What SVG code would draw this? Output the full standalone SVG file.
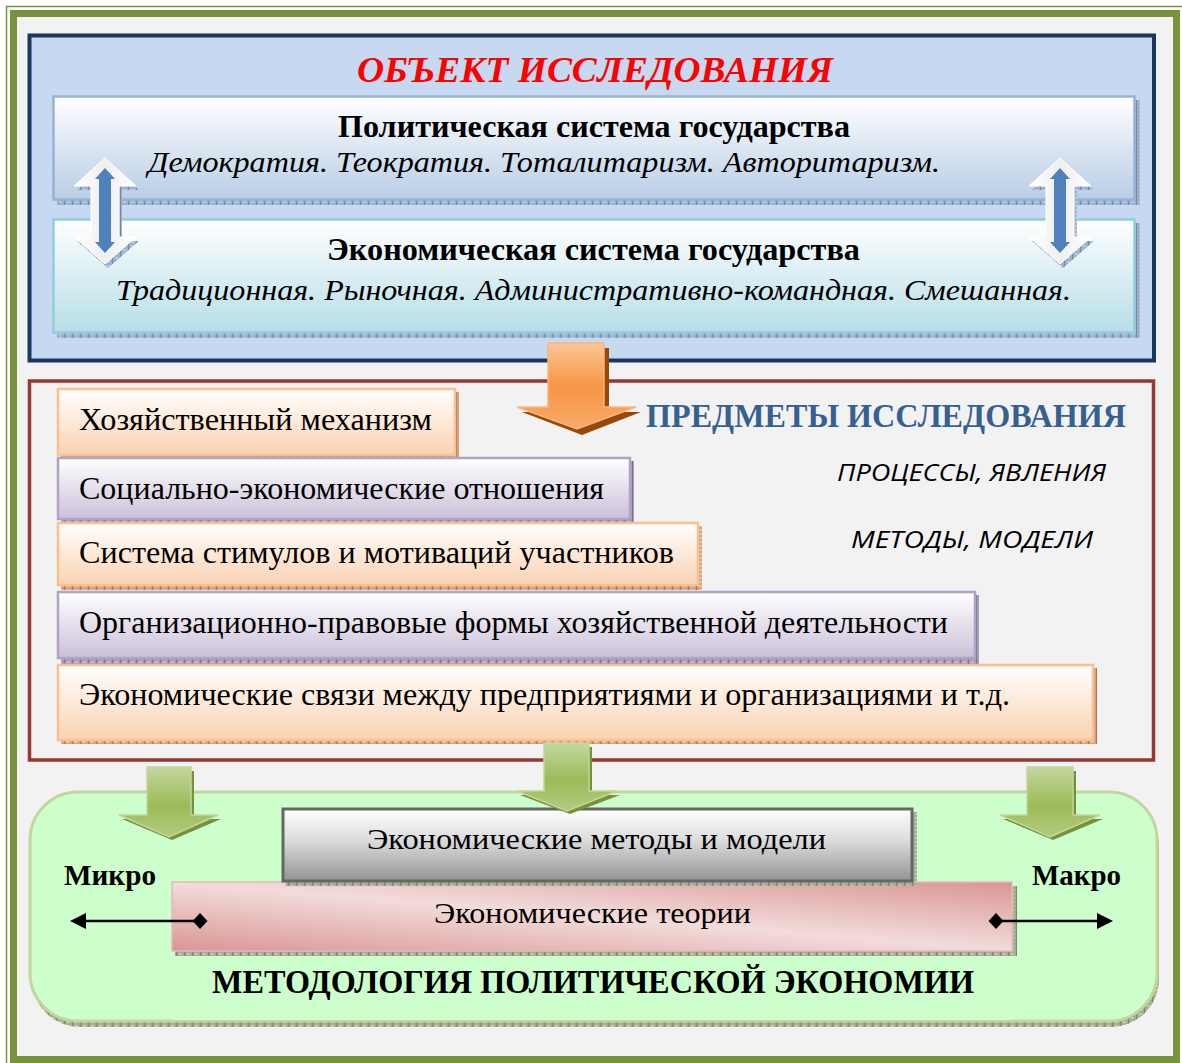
<svg xmlns="http://www.w3.org/2000/svg" width="1182" height="1063" viewBox="0 0 1182 1063">
<style>
.serif{font-family:"Liberation Serif","Times New Roman",serif;fill:#000}
.b{font-weight:bold}
.i{font-style:italic}
.item{font-family:"Liberation Serif","Times New Roman",serif;font-size:31px;fill:#000}
.sans{font-family:"Open Sans","Noto Sans","Liberation Sans",sans-serif;font-style:italic;font-size:23px;fill:#000}
.obox{fill:url(#gOr);stroke:#FAC090;stroke-width:2.5}
.pbox{fill:url(#gPu);stroke:#B3A2C7;stroke-width:2.5}
.shO{fill:url(#hO)}
.shP{fill:url(#hP)}
.shB{fill:url(#hB)}
.shG{fill:url(#hG)}
.garrow{fill:url(#gGr);stroke:#C3D69B;stroke-width:1.5}
.gshadow{fill:#76923C}
</style>
<defs>
<linearGradient id="gB1" x1="0" y1="0" x2="0" y2="1"><stop offset="0" stop-color="#FFFFFF"/><stop offset="0.5" stop-color="#DCE6F2"/><stop offset="1" stop-color="#B9CDE5"/></linearGradient>
<linearGradient id="gB2" x1="0" y1="0" x2="0" y2="1"><stop offset="0" stop-color="#FFFFFF"/><stop offset="0.5" stop-color="#DAEEF3"/><stop offset="1" stop-color="#B7DEE8"/></linearGradient>
<linearGradient id="gOr" x1="0" y1="0" x2="0" y2="1"><stop offset="0" stop-color="#FFFFFF"/><stop offset="1" stop-color="#FAD2B1"/></linearGradient>
<linearGradient id="gPu" x1="0" y1="0" x2="0" y2="1"><stop offset="0" stop-color="#FFFFFF"/><stop offset="1" stop-color="#CBC0D9"/></linearGradient>
<linearGradient id="gGray" x1="0" y1="0" x2="0" y2="1"><stop offset="0" stop-color="#FFFFFF"/><stop offset="0.45" stop-color="#DADADA"/><stop offset="1" stop-color="#939393"/></linearGradient>
<linearGradient id="gPink" x1="0" y1="1" x2="1" y2="0"><stop offset="0" stop-color="#D99694"/><stop offset="0.5" stop-color="#F2DCDB"/><stop offset="1" stop-color="#D99694"/></linearGradient>
<linearGradient id="gOrA" x1="0" y1="0" x2="0" y2="1"><stop offset="0" stop-color="#FBC597"/><stop offset="0.5" stop-color="#F79646"/><stop offset="1" stop-color="#F9AA6A"/></linearGradient>
<linearGradient id="gGr" x1="0" y1="0" x2="0" y2="1"><stop offset="0" stop-color="#C4D79E"/><stop offset="0.55" stop-color="#9BBB59"/><stop offset="1" stop-color="#B3CB80"/></linearGradient>
<linearGradient id="gWA" x1="0" y1="0" x2="1" y2="0"><stop offset="0" stop-color="#FFFFFF"/><stop offset="0.5" stop-color="#EFEFEF"/><stop offset="1" stop-color="#FFFFFF"/></linearGradient>
<pattern id="hB" width="8" height="4" patternUnits="userSpaceOnUse"><rect width="8" height="4" fill="#9CB2CC"/><rect width="1" height="4" fill="#6F8AAA"/><rect x="3" y="1" width="3" height="2" fill="#BACBDF"/></pattern>
<pattern id="hO" width="8" height="4" patternUnits="userSpaceOnUse"><rect width="8" height="4" fill="#D9A07C"/><rect width="1" height="4" fill="#B07452"/><rect x="3" y="1" width="3" height="2" fill="#EAC2A6"/></pattern>
<pattern id="hP" width="8" height="4" patternUnits="userSpaceOnUse"><rect width="8" height="4" fill="#A89CB5"/><rect width="1" height="4" fill="#7F7290"/><rect x="3" y="1" width="3" height="2" fill="#C6BCD1"/></pattern>
<pattern id="hG" width="8" height="4" patternUnits="userSpaceOnUse"><rect width="8" height="4" fill="#A4AC94"/><rect width="1" height="4" fill="#7C8470"/><rect x="3" y="1" width="3" height="2" fill="#C4CAB6"/></pattern>
</defs>

<!-- page frame -->
<rect x="0" y="0" width="1182" height="1063" fill="#FFFFFF"/>
<line x1="6.5" y1="6" x2="6.5" y2="1063" stroke="#77933C" stroke-width="1.5"/>
<line x1="6" y1="6.5" x2="1182" y2="6.5" stroke="#77933C" stroke-width="1.5"/>
<rect x="13.5" y="13.5" width="1163" height="1046" fill="#F2F2F2" stroke="#77933C" stroke-width="7"/>

<!-- object of research -->
<g id="object">
<rect x="29.5" y="35.5" width="1124.5" height="325" fill="#C6D9F1" stroke="#17375E" stroke-width="4"/>
<text class="serif b i" x="357" y="82" font-size="36" style="fill:#FF0000" textLength="476" lengthAdjust="spacingAndGlyphs">ОБЪЕКТ ИССЛЕДОВАНИЯ</text>
</g>
<g id="political">
<rect class="shB" x="57" y="100" width="1083" height="105"/>
<rect x="53.5" y="96.5" width="1081" height="103" fill="url(#gB1)" stroke="#95B3D7" stroke-width="2.5"/>
<text class="serif b" x="338" y="137" font-size="31" textLength="512" lengthAdjust="spacingAndGlyphs">Политическая система государства</text>
<text class="serif i" x="148" y="172" font-size="30" textLength="792" lengthAdjust="spacingAndGlyphs">Демократия. Теократия. Тоталитаризм. Авторитаризм.</text>
</g>
<g id="economic">
<rect class="shB" x="57" y="223" width="1083" height="115"/>
<rect x="53.5" y="219.5" width="1081" height="113" fill="url(#gB2)" stroke="#93CDDD" stroke-width="2.5"/>
<text class="serif b" x="327" y="260" font-size="31" textLength="533" lengthAdjust="spacingAndGlyphs">Экономическая система государства</text>
<text class="serif i" x="116" y="300" font-size="30" textLength="955" lengthAdjust="spacingAndGlyphs">Традиционная. Рыночная. Административно-командная. Смешанная.</text>
</g>

<!-- subjects of research -->
<g id="subjects">
<rect x="29.5" y="381" width="1124" height="379" fill="#F2F2F2" stroke="#953735" stroke-width="3.5"/>
<text class="serif b" x="646" y="427" font-size="34" style="fill:#366092" textLength="480" lengthAdjust="spacingAndGlyphs">ПРЕДМЕТЫ ИССЛЕДОВАНИЯ</text>
<text class="sans" x="837" y="481" textLength="269" lengthAdjust="spacingAndGlyphs">ПРОЦЕССЫ, ЯВЛЕНИЯ</text>
<text class="sans" x="851" y="548" textLength="242" lengthAdjust="spacingAndGlyphs">МЕТОДЫ, МОДЕЛИ</text>
</g>
<g id="item1">
<rect class="shO" x="61" y="392" width="398" height="68"/>
<rect class="obox" x="58" y="389" width="397" height="66"/>
<text class="item" x="79" y="430" textLength="353" lengthAdjust="spacingAndGlyphs">Хозяйственный механизм</text>
</g>
<g id="item2">
<rect class="shP" x="61" y="461" width="573" height="63"/>
<rect class="pbox" x="58" y="458" width="572" height="61"/>
<text class="item" x="79" y="499" textLength="525" lengthAdjust="spacingAndGlyphs">Социально-экономические отношения</text>
</g>
<g id="item3">
<rect class="shO" x="61" y="526" width="641" height="64"/>
<rect class="obox" x="58" y="523" width="640" height="62"/>
<text class="item" x="79" y="563" textLength="595" lengthAdjust="spacingAndGlyphs">Система стимулов и мотиваций участников</text>
</g>
<g id="item4">
<rect class="shP" x="61" y="595" width="918" height="69"/>
<rect class="pbox" x="58" y="592" width="917" height="66"/>
<text class="item" x="79" y="633" textLength="869" lengthAdjust="spacingAndGlyphs">Организационно-правовые формы хозяйственной деятельности</text>
</g>
<g id="item5">
<rect class="shO" x="61" y="668" width="1036" height="76"/>
<rect class="obox" x="58" y="665" width="1035" height="75"/>
<text class="item" x="79" y="705" textLength="931" lengthAdjust="spacingAndGlyphs">Экономические связи между предприятиями и организациями и т.д.</text>
</g>

<!-- methodology -->
<g id="methodology">
<rect class="shG" x="32" y="798" width="1127" height="229" rx="48"/>
<rect x="30" y="792" width="1127" height="229" rx="48" fill="#CCFFCC" stroke="#C3D69B" stroke-width="3"/>
<rect x="172" y="1016" width="841" height="4" fill="#CCFFCC"/>
<text class="serif b" x="212" y="993" font-size="34" textLength="762" lengthAdjust="spacingAndGlyphs">МЕТОДОЛОГИЯ ПОЛИТИЧЕСКОЙ ЭКОНОМИИ</text>
<text class="serif b" x="64" y="885" font-size="29" textLength="92" lengthAdjust="spacingAndGlyphs">Микро</text>
<text class="serif b" x="1032" y="885" font-size="29" textLength="89" lengthAdjust="spacingAndGlyphs">Макро</text>
</g>
<g id="theories">
<rect class="shG" x="175" y="886" width="842" height="70"/>
<rect x="172" y="882" width="840" height="69" fill="url(#gPink)" stroke="#E6B9B8" stroke-width="1.5"/>
<text class="serif" x="434" y="923" font-size="30" textLength="317" lengthAdjust="spacingAndGlyphs">Экономические теории</text>
</g>
<g id="methods">
<rect class="shG" x="286" y="812" width="631" height="74"/>
<rect x="283" y="809" width="629" height="72" fill="url(#gGray)" stroke="#666666" stroke-width="3"/>
<text class="serif" x="367" y="849" font-size="30" textLength="459" lengthAdjust="spacingAndGlyphs">Экономические методы и модели</text>
</g>

<!-- connectors -->
<g id="connectors">
<g id="dbl-left">
<polygon class="shB" points="108,162 139,190 122,190 122,241 139,241 108,268 77,241 94,241 94,190 77,190"/>
<polygon points="105,158 136,186 119,186 119,237 136,237 105,264 74,237 91,237 91,186 74,186" fill="url(#gWA)" stroke="#FFFFFF" stroke-width="1"/>
<polygon points="105,168 115,179 111,179 111,242 115,242 105,253 95,242 99,242 99,179 95,179" fill="#4F81BD"/>
</g>
<g id="dbl-right">
<polygon class="shB" points="1063,162 1094,190 1077,190 1077,241 1094,241 1063,268 1032,241 1049,241 1049,190 1032,190"/>
<polygon points="1060,158 1091,186 1074,186 1074,237 1091,237 1060,264 1029,237 1046,237 1046,186 1029,186" fill="url(#gWA)" stroke="#FFFFFF" stroke-width="1"/>
<polygon points="1060,168 1070,179 1066,179 1066,242 1070,242 1060,253 1050,242 1054,242 1054,179 1050,179" fill="#4F81BD"/>
</g>
<g id="arrow-orange">
<polygon points="553,348 609,348 609,412 641,412 582,435 522,412 553,412" fill="#984807"/>
<polygon points="548,343 604,343 604,407 636,407 577,429 517,407 548,407" fill="url(#gOrA)" stroke="#FAB57E" stroke-width="1.5"/>
</g>
<g id="arrow-green-left">
<polygon class="gshadow" points="150,771 194,771 194,819 221,819 172,840 122,819 150,819"/>
<polygon class="garrow" points="147,767 191,767 191,815 218,815 169,837 119,815 147,815"/>
</g>
<g id="arrow-green-mid">
<polygon class="gshadow" points="547,747 592,747 592,795 620,795 570,814 520,795 547,795"/>
<polygon class="garrow" points="544,743 589,743 589,791 617,791 567,811 517,791 544,791"/>
</g>
<g id="arrow-green-right">
<polygon class="gshadow" points="1030,771 1076,771 1076,819 1103,819 1053,840 1003,819 1030,819"/>
<polygon class="garrow" points="1027,767 1073,767 1073,815 1100,815 1050,837 1000,815 1027,815"/>
</g>
<g id="micro-arrow">
<line x1="82" y1="921" x2="200" y2="921" stroke="#000" stroke-width="2.5"/>
<polygon points="70,921 86,913 86,929" fill="#000"/>
<polygon points="200,913 207.5,921 200,929 192.5,921" fill="#000"/>
</g>
<g id="macro-arrow">
<line x1="996" y1="921" x2="1102" y2="921" stroke="#000" stroke-width="2.5"/>
<polygon points="1113,921 1097,913 1097,929" fill="#000"/>
<polygon points="996,913 1003.5,921 996,929 988.5,921" fill="#000"/>
</g>
</g>
</svg>
